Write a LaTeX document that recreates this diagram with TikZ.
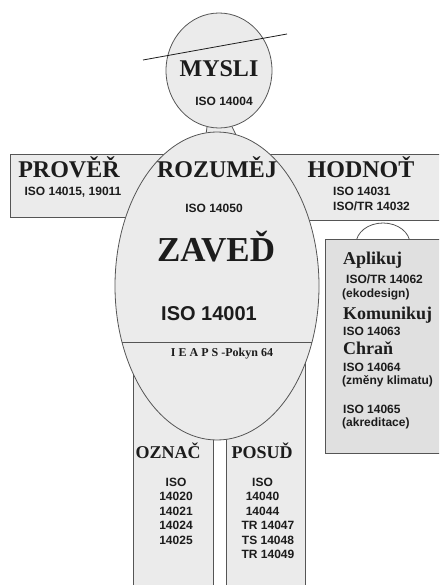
\documentclass[tikz,border=0pt]{standalone}
\usepackage{fontspec}
\setmainfont{Liberation Serif}
\setsansfont{Liberation Sans}
\usepackage{xcolor}
\usetikzlibrary{shapes.geometric,backgrounds}
\definecolor{ink}{HTML}{1C1C1C}
\definecolor{edge}{HTML}{555555}
\definecolor{paper}{HTML}{EBEBEB}
\definecolor{paperdark}{HTML}{E0E0E0}
\tikzset{
  part/.style={draw=edge,line width=0.8pt,fill=paper},
  oval/.style={part,ellipse,inner sep=0pt},
  line/.style={draw=edge,line width=0.8pt},
  verb/.style={font=\bfseries\fontsize{24}{24}\selectfont,text=ink,inner sep=0pt,anchor=base},
  verbsm/.style={verb,font=\bfseries\fontsize{18}{18}\selectfont},
  norm/.style={font=\sffamily\bfseries\fontsize{12}{14}\selectfont,text=ink,inner sep=0pt,anchor=base},
}
\begin{document}
\begin{tikzpicture}[x=1pt,y=-1pt]
  \clip (0,0) rectangle (439,585);
  % arms, legs, right panel
  \draw[part] (10,154) rectangle (200,217);
  \draw[part] (240,154) rectangle (450,220);
  \draw[part] (133,360) rectangle (213,600);
  \draw[part] (226,360) rectangle (305,600);
  \draw[line] (356,244) arc[start angle=180,end angle=0,x radius=27pt,y radius=21pt];
  \draw[part,fill=paperdark] (325,239) rectangle (450,453);
  % head and body
  \node[oval,minimum width=204pt,minimum height=308pt] (body) at (217,286) {};
  \node[oval,minimum width=106pt,minimum height=115pt] (head) at (219,70.5) {};
  \begin{scope}[on background layer]
    \fill[paper] (head.-102) -- (head.-77) -- (body.83) -- (body.94.5) -- cycle;
  \end{scope}
  \draw[line] (head.-102) -- (body.94.5);
  \draw[line] (head.-77) -- (body.83);
  \draw[line] (121.9,342) -- (312.1,342);
  \draw[line,draw=ink] (143,60) -- (287,34);
  % texts
  \node[verb] (mysli) at (219,77) {MYSLI};
  \node[norm] (iso14004) at (224,106) {ISO 14004};
  \node[verb] (prover) at (69,178) {PROVĚŘ};
  \node[norm] (iso14015) at (73,196) {ISO 14015, 19011};
  \node[verb] (rozumej) at (217,178) {ROZUMĚJ};
  \node[norm] (iso14050) at (214,212) {ISO 14050};
  \node[verb] (hodnot) at (361,178) {HODNOŤ};
  \node[norm,anchor=base west] (iso14031) at (333,196) {ISO 14031};
  \node[norm,anchor=base west] (iso14032) at (333,211) {ISO/TR 14032};
  \node[verb,font=\bfseries\fontsize{35}{35}\selectfont] (zaved) at (216,261) {ZAVEĎ};
  \node[norm,font=\sffamily\bfseries\fontsize{20}{20}\selectfont] (iso14001) at (209,320) {ISO 14001};
  \node[verb,font=\bfseries\fontsize{12}{12}\selectfont] (ieaps) at (222,356) {I E A P S -Pokyn 64};
  \node[verbsm,anchor=base west] (aplikuj) at (343,264) {Aplikuj};
  \node[norm,anchor=base west] (iso14062) at (346,283) {ISO/TR 14062};
  \node[norm,anchor=base west] (ekodes) at (342,297) {(ekodesign)};
  \node[verbsm,anchor=base west] (komunikuj) at (343,319) {Komunikuj};
  \node[norm,anchor=base west] (iso14063) at (343,335) {ISO 14063};
  \node[verbsm,anchor=base west] (chran) at (343,354) {Chraň};
  \node[norm,anchor=base west] (iso14064) at (343,371) {ISO 14064};
  \node[norm,anchor=base west] (klima) at (342,384) {(změny klimatu)};
  \node[norm,anchor=base west] (iso14065) at (343,413) {ISO 14065};
  \node[norm,anchor=base west] (akred) at (342,426.5) {(akreditace)};
  \node[verbsm] (oznac) at (168,458) {OZNAČ};
  \node[verbsm] (posud) at (262,458) {POSUĎ};
  \foreach \t [count=\i] in {ISO,14020,14021,14024,14025}
    \node[norm] (ozn\i) at (176,{486+14.5*(\i-1)}) {\t};
  \foreach \t/\x [count=\i] in {ISO/262.5,14040/262.5,14044/262.5,TR 14047/268,TS 14048/268,TR 14049/268}
    \node[norm] (pos\i) at (\x,{486+14.5*(\i-1)}) {\t};
\end{tikzpicture}
\end{document}
